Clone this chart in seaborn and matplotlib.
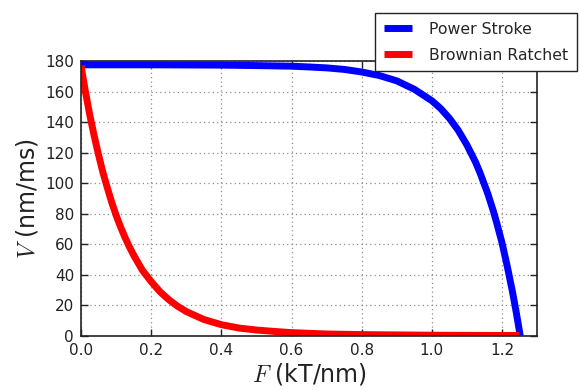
import matplotlib
matplotlib.use("Agg")
import matplotlib.pyplot as plt
import seaborn as sns
import pandas as pd

# Power Stroke curve
ps_F = [0.0, 0.2, 0.4, 0.5, 0.6, 0.65, 0.7, 0.75, 0.8, 0.85, 0.9, 0.95, 1.0, 1.025,
        1.05, 1.075, 1.1, 1.125, 1.137, 1.15, 1.16, 1.175, 1.185, 1.2, 1.215, 1.23,
        1.24, 1.252]
ps_V = [177.5, 177.5, 177.3, 177.0, 176.6, 176.1, 175.5, 174.5, 172.8, 170.5, 167.0,
        161.5, 154.0, 148.9, 142.5, 134.7, 125.0, 113.6, 107.0, 99.0, 92.8, 82.0,
        74.0, 61.0, 45.6, 28.8, 16.3, 0.0]

# Brownian Ratchet curve
br_F = [0.0, 0.0125, 0.025, 0.0375, 0.05, 0.0625, 0.075, 0.0875, 0.1, 0.1125, 0.125,
        0.1375, 0.15, 0.175, 0.2, 0.225, 0.25, 0.275, 0.3, 0.35, 0.4, 0.45, 0.5, 0.55,
        0.6, 0.7, 0.8, 0.9, 1.0, 1.1, 1.25]
br_V = [177, 160, 144.6, 131, 118.5, 107, 97, 87.5, 79, 71.5, 64.7, 58.5, 52.9, 43,
        35.6, 29, 23.8, 19.5, 16, 10.8, 7.4, 5.2, 3.9, 3.0, 2.2, 1.3, 0.9, 0.7, 0.5,
        0.4, 0.3]

xticks = [0.0, 0.2, 0.4, 0.6, 0.8, 1.0, 1.2]
yticks = [0, 20, 40, 60, 80, 100, 120, 140, 160, 180]

sns.set_style("ticks")
plt.rcParams["font.family"] = ["DejaVu Sans"]
plt.rcParams["mathtext.fontset"] = "cm"

df_ps = pd.DataFrame({"F": ps_F, "V": ps_V, "s": "Power Stroke"})
df_br = pd.DataFrame({"F": br_F, "V": br_V, "s": "Brownian Ratchet"})

fig = plt.figure(figsize=(5.8, 3.9), dpi=100)
ax = fig.add_axes([0.1397, 0.1385, 0.926 - 0.1397, 0.8436 - 0.1385])

sns.lineplot(data=df_ps, x="F", y="V", ax=ax, color="#0000ff", lw=5,
             sort=False, estimator=None, label="Power Stroke",
             solid_joinstyle="round", solid_capstyle="butt")
sns.lineplot(data=df_br, x="F", y="V", ax=ax, color="#ff0000", lw=5,
             sort=False, estimator=None, label="Brownian Ratchet",
             solid_joinstyle="round", solid_capstyle="butt")

ax.set_xlim(0, 1.3)
ax.set_ylim(0, 180)
ax.set_xticks(xticks)
ax.set_xticklabels([f"{t:.1f}" for t in xticks])
ax.set_yticks(yticks)
ax.grid(True, linestyle=(0, (1, 2.5)), color="#8c8c8c", linewidth=0.9)
ax.tick_params(direction="in", top=True, right=True, length=5, width=1,
               labelsize=11, colors="#222222", pad=5)
for sp in ax.spines.values():
    sp.set_color("#222222")
    sp.set_linewidth(1.2)

ax.set_xlabel(r"$F$ (kT/nm)", fontsize=17, color="#222222", labelpad=2)
ax.set_ylabel(r"$V$ (nm/ms)", fontsize=17, color="#222222", labelpad=4)

leg = ax.legend(loc="upper right", bbox_to_anchor=(577 / 580, 1 - 13 / 390),
                bbox_transform=fig.transFigure, borderaxespad=0, fancybox=False,
                framealpha=1, edgecolor="#222222", fontsize=11.3, handlelength=1.8,
                borderpad=0.55, labelspacing=0.7, handletextpad=1.1)
leg.get_frame().set_linewidth(1.0)

fig.savefig("out.png", dpi=100)
